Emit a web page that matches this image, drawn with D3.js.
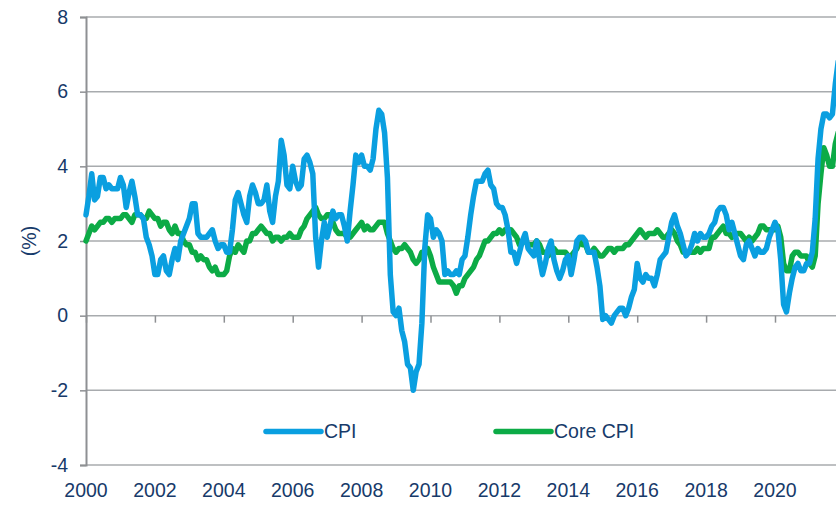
<!DOCTYPE html>
<html>
<head>
<meta charset="utf-8">
<script src="https://cdn.jsdelivr.net/npm/d3@7"></script>
<style>
  body { margin: 0; background: #fff; }
  svg { display: block; font-family: "Liberation Sans", Arial, sans-serif; }
</style>
</head>
<body>
<div id="chart"></div>
<script>
// monthly YoY % from Jan 2000
const startYear = 2000;
const cpi = [
  2.7, 3.2, 3.8, 3.1, 3.2, 3.7, 3.7, 3.4, 3.5, 3.4, 3.4, 3.4,
  3.7, 3.5, 2.9, 3.3, 3.6, 3.2, 2.7, 2.7, 2.6, 2.1, 1.9, 1.6,
  1.1, 1.1, 1.5, 1.6, 1.2, 1.1, 1.5, 1.8, 1.5, 2.0, 2.2, 2.4,
  2.6, 3.0, 3.0, 2.2, 2.1, 2.1, 2.1, 2.2, 2.3, 2.0, 1.8, 1.9,
  1.9, 1.7, 1.7, 2.3, 3.1, 3.3, 3.0, 2.7, 2.5, 3.2, 3.5, 3.3,
  3.0, 3.0, 3.1, 3.5, 2.8, 2.5, 3.2, 3.6, 4.7, 4.3, 3.5, 3.4,
  4.0, 3.6, 3.4, 3.5, 4.2, 4.3, 4.1, 3.8, 2.1, 1.3, 2.0, 2.5,
  2.1, 2.4, 2.8, 2.6, 2.7, 2.7, 2.4, 2.0, 2.8, 3.5, 4.3, 4.1,
  4.3, 4.0, 4.0, 3.9, 4.2, 5.0, 5.5, 5.4, 4.9, 3.7, 1.1, 0.1,
  0.0, 0.2, -0.4, -0.7, -1.3, -1.4, -2.0, -1.5, -1.3, -0.2, 1.8, 2.7,
  2.6, 2.1, 2.3, 2.2, 2.0, 1.1, 1.2, 1.1, 1.1, 1.2, 1.1, 1.5,
  1.6, 2.1, 2.7, 3.2, 3.6, 3.6, 3.6, 3.8, 3.9, 3.5, 3.4, 3.0,
  2.9, 2.9, 2.7, 2.3, 1.7, 1.7, 1.4, 1.7, 2.0, 2.2, 1.8, 1.7,
  1.6, 2.0, 1.5, 1.1, 1.4, 1.8, 2.0, 1.5, 1.2, 1.0, 1.2, 1.5,
  1.6, 1.1, 1.5, 2.0, 2.1, 2.1, 2.0, 1.7, 1.7, 1.7, 1.3, 0.8,
  -0.1, 0.0, -0.1, -0.2, 0.0, 0.1, 0.2, 0.2, 0.0, 0.2, 0.5, 0.7,
  1.4, 1.0, 0.9, 1.1, 1.0, 1.0, 0.8, 1.1, 1.5, 1.6, 1.7, 2.1,
  2.5, 2.7, 2.4, 2.2, 1.9, 1.6, 1.7, 1.9, 2.2, 2.0, 2.2, 2.1,
  2.1, 2.2, 2.4, 2.5, 2.8, 2.9, 2.9, 2.7, 2.3, 2.5, 2.2, 1.9,
  1.6, 1.5, 1.9, 2.0, 1.8, 1.6, 1.8, 1.7, 1.7, 1.8, 2.1, 2.3,
  2.5, 2.3, 1.5, 0.3, 0.1, 0.6, 1.0, 1.3, 1.4, 1.2, 1.2, 1.4,
  1.4, 1.7, 2.6, 4.2, 5.0, 5.4, 5.4, 5.3, 5.4, 6.2, 6.8
];
const coreCpi = [
  2.0, 2.2, 2.4, 2.3, 2.4, 2.5, 2.5, 2.6, 2.6, 2.5, 2.6, 2.6,
  2.6, 2.7, 2.7, 2.6, 2.5, 2.7, 2.7, 2.7, 2.6, 2.6, 2.8, 2.7,
  2.6, 2.6, 2.4, 2.5, 2.5, 2.3, 2.2, 2.4, 2.2, 2.2, 2.0, 1.9,
  1.9, 1.7, 1.7, 1.5, 1.6, 1.5, 1.5, 1.3, 1.2, 1.3, 1.1, 1.1,
  1.1, 1.2, 1.6, 1.8, 1.7, 1.9, 1.8, 1.7, 2.0, 2.0, 2.2, 2.2,
  2.3, 2.4, 2.3, 2.2, 2.2, 2.0, 2.1, 2.1, 2.0, 2.1, 2.1, 2.2,
  2.1, 2.1, 2.1, 2.3, 2.4, 2.6, 2.7, 2.8, 2.9, 2.7, 2.6, 2.6,
  2.7, 2.7, 2.5, 2.3, 2.2, 2.2, 2.2, 2.1, 2.1, 2.2, 2.3, 2.4,
  2.5, 2.3, 2.4, 2.3, 2.3, 2.4, 2.5, 2.5, 2.5, 2.2, 2.0, 1.8,
  1.7, 1.8, 1.8, 1.9, 1.8, 1.7, 1.5, 1.4, 1.5, 1.7, 1.7, 1.8,
  1.6, 1.3, 1.1, 0.9, 0.9, 0.9, 0.9, 0.9, 0.8, 0.6, 0.8, 0.8,
  1.0, 1.1, 1.2, 1.3, 1.5, 1.6, 1.8, 2.0, 2.0, 2.1, 2.2, 2.2,
  2.3, 2.2, 2.3, 2.3, 2.3, 2.2, 2.1, 1.9, 2.0, 2.0, 1.9, 1.9,
  1.9, 2.0, 1.9, 1.7, 1.7, 1.6, 1.7, 1.8, 1.7, 1.7, 1.7, 1.7,
  1.6, 1.6, 1.7, 1.8, 2.0, 1.9, 1.9, 1.7, 1.7, 1.8, 1.7, 1.6,
  1.6, 1.7, 1.8, 1.8, 1.7, 1.8, 1.8, 1.8, 1.9, 1.9, 2.0, 2.1,
  2.2, 2.3, 2.2, 2.1, 2.2, 2.2, 2.2, 2.3, 2.2, 2.1, 2.1, 2.2,
  2.3, 2.2, 2.0, 1.9, 1.7, 1.7, 1.7, 1.7, 1.7, 1.8, 1.7, 1.8,
  1.8, 1.8, 2.1, 2.1, 2.2, 2.3, 2.4, 2.2, 2.2, 2.1, 2.2, 2.2,
  2.2, 2.1, 2.0, 2.1, 2.0, 2.1, 2.2, 2.4, 2.4, 2.3, 2.3, 2.3,
  2.3, 2.4, 2.1, 1.4, 1.2, 1.2, 1.6, 1.7, 1.7, 1.6, 1.6, 1.6,
  1.4, 1.3, 1.6, 3.0, 3.8, 4.5, 4.3, 4.0, 4.0, 4.6, 4.9
];
const yTicks = [-4, -2, 0, 2, 4, 6, 8];
const xTicks = [2000, 2002, 2004, 2006, 2008, 2010, 2012, 2014, 2016, 2018, 2020];
const seriesNames = ["CPI", "Core CPI"];
const seriesColors = ["#0a9fe0", "#0cab46"];

const W = 836, H = 505;
const margin = { top: 17, left: 86, bottom: 40 };
const textColor = "#173a6a";

const svg = d3.select("#chart").append("svg")
    .attr("width", W)
    .attr("height", H);

const x = d3.scaleLinear().domain([2000, 2022]).range([margin.left, margin.left + 22 * 34.45]);
const y = d3.scaleLinear().domain([-4, 8]).range([H - margin.bottom, margin.top]);

// gridlines
svg.append("g").selectAll("line")
    .data(yTicks)
    .enter().append("line")
    .attr("x1", margin.left).attr("x2", W)
    .attr("y1", d => y(d)).attr("y2", d => y(d))
    .attr("stroke", "#a8abae")
    .attr("stroke-width", 1.5);

// left axis (plain hyphen for negatives, like the original)
const yAxis = svg.append("g")
    .attr("transform", `translate(${margin.left},0)`)
    .call(d3.axisLeft(y).tickValues(yTicks).tickSize(6).tickPadding(12).tickFormat(d => String(d)));
yAxis.select(".domain").attr("stroke", "#8e9093").attr("stroke-width", 2);
yAxis.selectAll(".tick line").attr("stroke", "#8e9093").attr("stroke-width", 1.5);
yAxis.selectAll("text").attr("fill", textColor).style("font-size", "19.5px");

// year ticks hang off the zero line, labels sit below the plot
const xAxis = svg.append("g")
    .attr("transform", `translate(0,${y(0)})`)
    .call(d3.axisBottom(x).tickValues(xTicks).tickSize(7).tickFormat(() => ""));
xAxis.select(".domain").remove();
xAxis.selectAll(".tick line").attr("stroke", "#8e9093").attr("stroke-width", 1.5);

svg.append("g").selectAll("text")
    .data(xTicks)
    .enter().append("text")
    .attr("x", d => x(d))
    .attr("y", y(-4) + 32)
    .attr("text-anchor", "middle")
    .attr("fill", textColor)
    .style("font-size", "19.5px")
    .text(d => d);

svg.append("text")
    .attr("transform", `translate(36,${y(2)}) rotate(-90)`)
    .attr("text-anchor", "middle")
    .attr("fill", textColor)
    .style("font-size", "19.5px")
    .text("(%)");

const line = d3.line()
    .x((d, i) => x(startYear + i / 12))
    .y(d => y(d));

[coreCpi, cpi].forEach((s, k) => {
    svg.append("path")
        .datum(s)
        .attr("d", line)
        .attr("fill", "none")
        .attr("stroke", seriesColors[1 - k])
        .attr("stroke-width", 5.5)
        .attr("stroke-linejoin", "round")
        .attr("stroke-linecap", "round");
});

// legend
const legend = svg.append("g").selectAll("g")
    .data(seriesNames)
    .enter().append("g")
    .attr("transform", (d, i) => `translate(${[266, 496][i]},${y(-3.1)})`);
legend.append("line")
    .attr("x1", 0).attr("x2", 55)
    .attr("stroke", (d, i) => seriesColors[i])
    .attr("stroke-width", 5.5)
    .attr("stroke-linecap", "round");
legend.append("text")
    .attr("x", 58)
    .attr("dy", "0.35em")
    .attr("fill", textColor)
    .style("font-size", "19.5px")
    .text(d => d);
</script>
</body>
</html>
